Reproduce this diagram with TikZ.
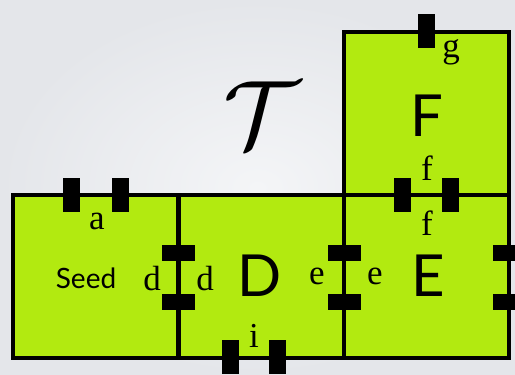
\documentclass[tikz,border=0pt]{standalone}
\usepackage{fontspec}
\setmainfont{Liberation Serif}
\newfontfamily\tilefont{Lato}
\definecolor{tilegreen}{RGB}{178,234,16}
\definecolor{bgin}{RGB}{244,245,247}
\definecolor{bgout}{RGB}{228,230,234}
\tikzset{T02tile/.style={rectangle,draw=black,fill=tilegreen,line width=4pt,inner sep=0pt,minimum width=165pt,minimum height=163pt},
         T02gv/.style={rectangle,fill=black,inner sep=0pt,minimum width=17pt,minimum height=34pt},
         T02gh/.style={rectangle,fill=black,inner sep=0pt,minimum width=33pt,minimum height=16pt},
         T02lab/.style={inner sep=0pt,font=\fontsize{35}{35}\selectfont},
         T02name/.style={inner sep=0pt,font=\tilefont\fontsize{58}{58}\selectfont}}

\begin{document}
\begin{tikzpicture}[x=1pt, y=-1pt]
  \shade[inner color=bgin, outer color=bgout] (0,0) rectangle (515,375);
  \clip (0,0) rectangle (515,375);
  % tiles
  \node[T02tile] (seed) at (95.5,276) {};
  \node[T02tile] (D) at (261,276) {};
  \node[T02tile] (E) at (426.5,276) {};
  \node[T02tile] (F) at (426.5,113) {};
  % glues on horizontal sides
  \foreach \x/\y [count=\k] in {71.5/195, 120.5/195, 402.5/195, 450.5/195, 426.5/30.5, 230/357, 277.5/357}
    \node[T02gv] (gv\k) at (\x,\y) {};
  % glues on vertical sides
  \foreach \x [count=\k] in {178,344,509} {
    \node[T02gh] (gu\k) at (\x,253) {};
    \node[T02gh] (gd\k) at (\x,302) {};
  }
  % glue labels
  \node[T02lab] (la) at (97,221) {a};
  \node[T02lab] (ld1) at (152,279) {d};
  \node[T02lab] (ld2) at (205,279) {d};
  \node[T02lab] (le1) at (317,276) {e};
  \node[T02lab] (le2) at (375,276) {e};
  \node[T02lab] (lf1) at (427,168) {f};
  \node[T02lab] (lf2) at (427,223) {f};
  \node[T02lab] (lg) at (451,52) {g};
  \node[T02lab] (li) at (254,336) {i};
  % tile names
  \node[inner sep=0pt,font=\tilefont\fontsize{28}{28}\selectfont] (nseed) at (86,278) {Seed};
  \node[T02name] (nD) at (260,276) {D};
  \node[T02name] (nE) at (428,276) {E};
  \node[T02name] (nF) at (427,116) {F};
  \node[inner sep=0pt] (nT) at (262,115) {\scalebox{9.6}{$\mathcal{T}$}};
\end{tikzpicture}
\end{document}
